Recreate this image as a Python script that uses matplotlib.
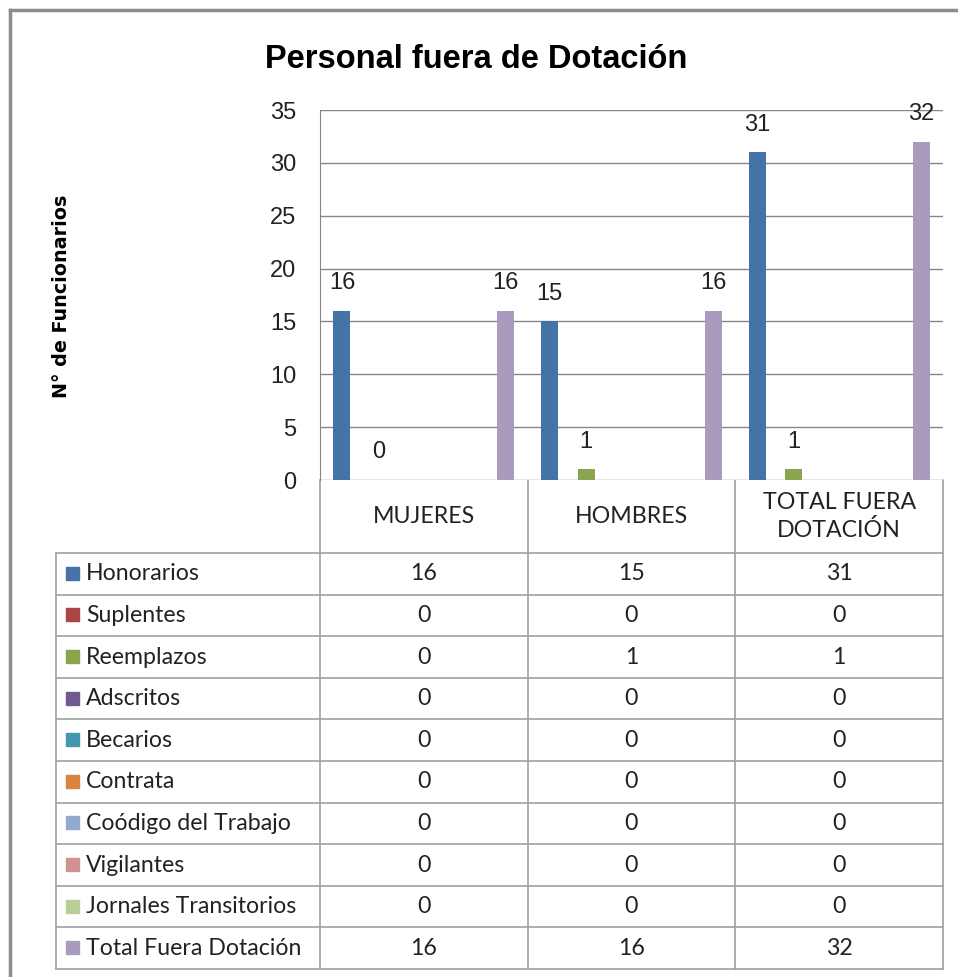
import matplotlib.pyplot as plt
from matplotlib import font_manager

# data
categorias = ['MUJERES', 'HOMBRES', 'TOTAL FUERA\nDOTACIÓN']
series = ['Honorarios', 'Suplentes', 'Reemplazos', 'Adscritos', 'Becarios',
          'Contrata', 'Coódigo del Trabajo', 'Vigilantes',
          'Jornales Transitorios', 'Total Fuera Dotación']
honorarios = [16, 15, 31]
suplentes = [0, 0, 0]
reemplazos = [0, 1, 1]
adscritos = [0, 0, 0]
becarios = [0, 0, 0]
contrata = [0, 0, 0]
codigo_trabajo = [0, 0, 0]
vigilantes = [0, 0, 0]
jornales = [0, 0, 0]
total_fuera = [16, 16, 32]
valores = [honorarios, suplentes, reemplazos, adscritos, becarios,
           contrata, codigo_trabajo, vigilantes, jornales, total_fuera]
con_etiqueta = ['Honorarios', 'Reemplazos', 'Total Fuera Dotación']
yticks = [0, 5, 10, 15, 20, 25, 30, 35]

colores = ['#4572A7', '#AA4643', '#89A54E', '#71588F', '#4198AF',
           '#DB843D', '#93A9CF', '#D19392', '#B9CD96', '#A99BBD']

names = {f.name for f in font_manager.fontManager.ttflist}
narrow = 'Liberation Sans Narrow' if 'Liberation Sans Narrow' in names else 'Liberation Sans'
tfont = 'Lato'

W, H = 958, 977
fig = plt.figure(figsize=(W / 100, H / 100), dpi=100)

# pixel layout of the Excel-style chart
x0, x1 = 320, 943        # plot area left / right
y_top, y_base = 110, 480  # value 35 and value 0
y_tab, y_end = 553, 969   # data table top / bottom
x_tab = 56

ax = fig.add_axes([x0 / W, 1 - y_base / H, (x1 - x0) / W, (y_base - y_top) / H])
ax.set_xlim(-0.5, len(categorias) - 0.5)
ax.set_ylim(0, 35)
ax.set_yticks(yticks)
ax.set_xticks([])
ax.grid(axis='y', color='#868686', lw=1)
ax.set_axisbelow(True)
for s in ['top', 'right', 'bottom']:
    ax.spines[s].set_visible(False)
ax.spines['left'].set_color('#868686')
ax.tick_params(axis='y', length=0, pad=17, labelsize=17)
for lab in ax.get_yticklabels():
    lab.set_fontfamily(narrow)
    lab.set_color('#222222')

n = len(series)
step = 0.0876
ancho = 0.082
for i, (nombre, vals) in enumerate(zip(series, valores)):
    pos = [c + (i - (n - 1) / 2) * step for c in range(len(categorias))]
    bars = ax.bar(pos, vals, width=ancho, color=colores[i], zorder=3)
    if nombre in con_etiqueta:
        for b, v in zip(bars, vals):
            ax.annotate(str(v), (b.get_x() + b.get_width() / 2, v),
                        xytext=(0, 20), textcoords='offset points',
                        ha='center', va='center', fontsize=17,
                        family=narrow, color='#222222', annotation_clip=False)

# overlay in pixel coordinates for the frame, title and data table
bg = fig.add_axes([0, 0, 1, 1], zorder=-1)
bg.set_xlim(0, W)
bg.set_ylim(H, 0)
bg.axis('off')

bg.plot([10, 10], [10, H], color='#8c8c8c', lw=2.5)
bg.plot([10, W], [10, 10], color='#8c8c8c', lw=2.5)

bg.text(476, 60, 'Personal fuera de Dotación', ha='center', va='center',
        fontsize=23.5, fontweight='bold', family=narrow, color='black')
bg.text(62, 296, 'N° de Funcionarios', ha='center', va='center', rotation=90,
        fontsize=13.8, fontweight='bold', family='DejaVu Sans', color='black')

lc = '#a0a0a0'
col_w = (x1 - x0) / len(categorias)
cols = [x0 + k * col_w for k in range(len(categorias) + 1)]
# header row with category names
for cx in cols:
    bg.plot([cx, cx], [y_base, y_end], color=lc, lw=1.2)
for k, cat in enumerate(categorias):
    bg.text((cols[k] + cols[k + 1]) / 2, (y_base + y_tab) / 2, cat,
            ha='center', va='center', fontsize=16.7, family=tfont,
            color='#222222', linespacing=1.3)

row_h = (y_end - y_tab) / n
for r in range(n + 1):
    yy = y_tab + r * row_h
    bg.plot([x_tab, x1], [yy, yy], color=lc, lw=1.2)
bg.plot([x_tab, x_tab], [y_tab, y_end], color=lc, lw=1.2)

for r, (nombre, vals) in enumerate(zip(series, valores)):
    yc = y_tab + (r + 0.5) * row_h
    bg.add_patch(plt.Rectangle((66, yc - 7), 13, 13, color=colores[r]))
    bg.text(86, yc, nombre, ha='left', va='center', fontsize=16.7,
            family=tfont, color='#222222')
    for k, v in enumerate(vals):
        bg.text((cols[k] + cols[k + 1]) / 2, yc, str(v), ha='center',
                va='center', fontsize=16.7, family=tfont, color='#222222')

fig.savefig('out.png', dpi=100, facecolor='white')
